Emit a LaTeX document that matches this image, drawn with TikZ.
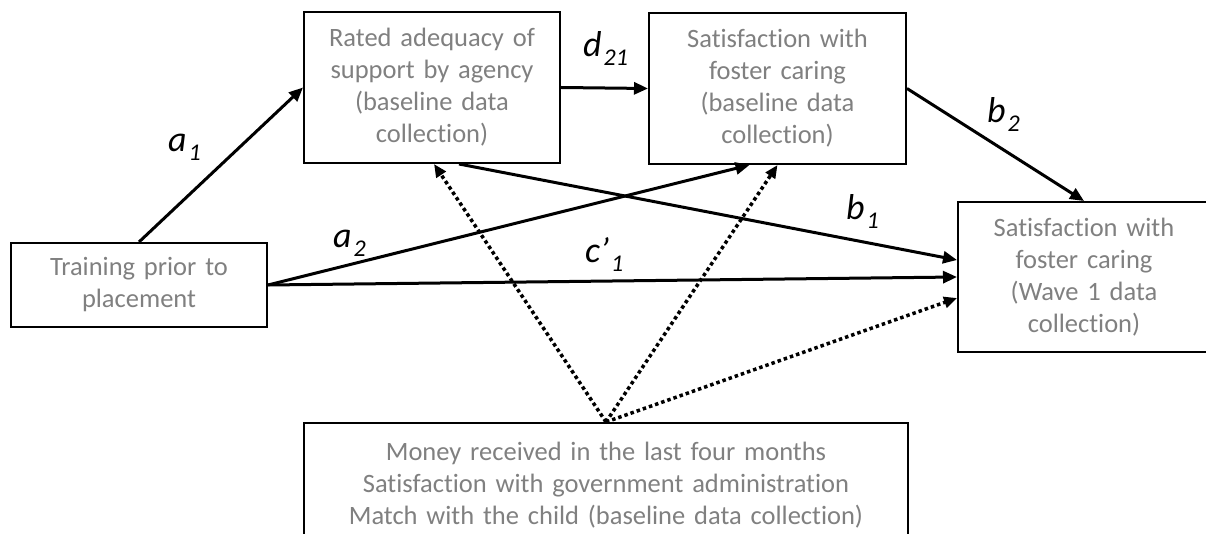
\documentclass[tikz,border=0pt]{standalone}
\usepackage{fontspec}
\setmainfont[Ligatures={NoCommon}]{Carlito}
\usetikzlibrary{arrows.meta,calc}
\definecolor{txtgray}{RGB}{128,128,128}
\tikzset{
  boxnode/.style={draw=black, line width=2pt, fill=white, align=center, text=txtgray,
    inner sep=0pt, font=\fontsize{26.5}{32}\selectfont},
  conn/.style={line width=3pt, -{Triangle[length=14pt,width=12pt]}},
  dotconn/.style={line width=3.5pt, dash pattern=on 3.5pt off 3pt, -{Triangle[length=13pt,width=11pt]}},
  lbl/.style={anchor=base west, inner sep=0pt, font=\fontsize{36}{36}\selectfont\itshape}
}
\newcommand{\subtxt}[1]{\kern2pt\raisebox{-9pt}{\fontsize{24}{24}\selectfont #1}}
\begin{document}
\begin{tikzpicture}[x=1pt,y=-1pt]
\useasboundingbox (0,0) rectangle (1206,534);
\clip (0,0) rectangle (1206,534);
\fill[white] (0,0) rectangle (1206,534);
% boxes
\node[boxnode, minimum width=256pt, minimum height=151pt, text width=250pt] (rated) at (432,87.5)
  {Rated adequacy of\\support by agency\\(baseline data\\collection)};
\node[boxnode, minimum width=257pt, minimum height=151pt, text width=250pt] (satb) at (777.5,88.5)
  {Satisfaction with\\foster caring\\(baseline data\\collection)};
\node[boxnode, minimum width=252pt, minimum height=150pt, text width=246pt] (wave) at (1084,277)
  {Satisfaction with\\foster caring\\(Wave 1 data\\collection)};
\node[boxnode, minimum width=256pt, minimum height=84pt, text width=250pt] (train) at (139,285)
  {Training prior to\\placement};
\node[boxnode, minimum width=604pt, minimum height=124pt, text width=598pt] (money) at (606,485)
  {Money received in the last four months\\Satisfaction with government administration\\Match with the child (baseline data collection)};
% connectors
\draw[conn] (train.north) -- (rated.west);
\draw[conn] (rated.east) -- (satb.west);
\draw[conn] (train.east) -- ([xshift=-28pt]satb.south);
\draw[conn] (train.east) -- (wave.west);
\draw[conn] ([xshift=27pt]rated.south) -- ([yshift=17pt]wave.west);
\draw[conn] (satb.east) -- (wave.north);
\draw[dotconn] (money.north) -- ([xshift=2pt]rated.south);
\draw[dotconn] (money.north) -- (satb.south);
\draw[dotconn] (money.north) -- ([yshift=-21pt]wave.west);
% labels
\node[lbl] (la1) at (168,152) {a\subtxt{1}};
\node[lbl] (la2) at (333,248) {a\subtxt{2}};
\node[lbl] (ld21) at (583,57) {d\subtxt{21}};
\node[lbl] (lb2) at (987,123) {b\subtxt{2}};
\node[lbl] (lb1) at (846,220) {b\subtxt{1}};
\node[lbl] (lc1) at (585,263) {c’\subtxt{1}};
\end{tikzpicture}
\end{document}
